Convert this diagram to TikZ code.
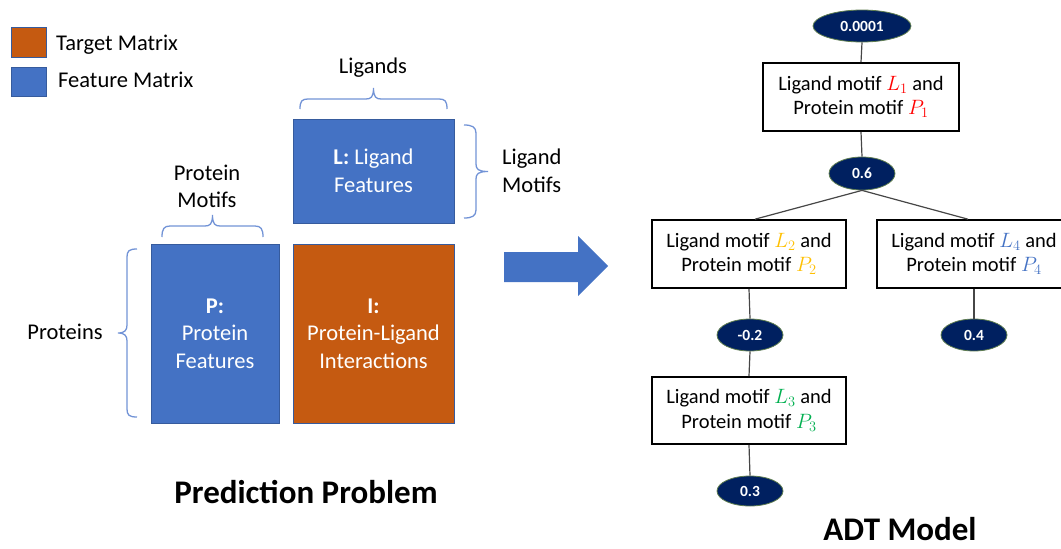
\documentclass[tikz,border=0pt]{standalone}
\usepackage{fontspec}
\setmainfont{Carlito}
\usetikzlibrary{shapes.geometric}
\definecolor{featblue}{HTML}{4472C4}
\definecolor{targorange}{HTML}{C55A11}
\definecolor{bracecol}{RGB}{114,147,214}
\definecolor{navy}{HTML}{002060}
\definecolor{navyedge}{RGB}{95,125,80}
\definecolor{lgold}{HTML}{FFC000}
\definecolor{lgreen}{HTML}{00B050}
\definecolor{lblue}{HTML}{4472C4}
\definecolor{linegray}{RGB}{70,70,70}
\begin{document}
\begin{tikzpicture}[x=1pt,y=-1pt,
  lbl/.style={font=\fontsize{22.5}{27.5}\selectfont, align=center, inner sep=0pt},
  matbox/.style={draw=featblue!80!black, line width=0.6pt, inner sep=0pt, text=white,
     font=\fontsize{22.5}{27.5}\selectfont, align=center},
  brc/.style={draw=bracecol, line width=1.3pt},
  leaf/.style={ellipse, fill=navy, draw=navyedge, line width=0.8pt, text=white,
     font=\fontsize{15.5}{18}\selectfont\bfseries, inner sep=0pt},
  splitbox/.style={draw=black, line width=1.6pt, fill=white, minimum width=194pt,
     minimum height=68pt, align=center, inner sep=0pt, font=\fontsize{20.5}{24.5}\selectfont},
  edge/.style={draw=linegray, line width=1.2pt},
  title/.style={font=\fontsize{33}{38}\selectfont\bfseries, inner sep=0pt}
]
\useasboundingbox (0,0) rectangle (1061,549);

% legend
\node[matbox, fill=targorange, minimum width=35pt, minimum height=30pt] (legT) at (28.5,42) {};
\node[matbox, fill=featblue, minimum width=35pt, minimum height=29pt] (legF) at (28.5,81.5) {};
\node[lbl, anchor=west] (legTt) at (56,45) {Target Matrix};
\node[lbl, anchor=west] (legFt) at (58,80) {Feature Matrix};

% matrices
\node[matbox, fill=featblue, minimum width=161pt, minimum height=104pt] (L) at (373.5,171) {\textbf{L:} Ligand\\Features};
\node[matbox, fill=featblue, minimum width=128pt, minimum height=179pt] (P) at (215,333.5) {\textbf{P:}\\Protein\\Features};
\node[matbox, fill=targorange, minimum width=161pt, minimum height=179pt] (I) at (373.5,333.5) {\textbf{I:}\\Protein-Ligand\\Interactions};

% braces
\draw[brc] (300,109) .. controls (300,101) and (302,99) .. (308,99) -- (366,99)
  .. controls (371,99) and (373.5,97) .. (373.5,88)
  .. controls (373.5,97) and (376,99) .. (381,99) -- (439,99)
  .. controls (445,99) and (447,101) .. (447,109);
\draw[brc] (162,237) .. controls (162,229) and (164,226) .. (170,226) -- (205,226)
  .. controls (210,226) and (212.5,224) .. (212.5,215)
  .. controls (212.5,224) and (215,226) .. (220,226) -- (255,226)
  .. controls (261,226) and (263,229) .. (263,237);
\draw[brc] (464,125) .. controls (472,125) and (476,127) .. (476,133) -- (476,164)
  .. controls (476,169) and (478,171.5) .. (488,171.5)
  .. controls (478,171.5) and (476,174) .. (476,179) -- (476,210)
  .. controls (476,216) and (472,218) .. (464,218);
\draw[brc] (137,249) .. controls (129,249) and (127,251) .. (127,257) -- (127,325)
  .. controls (127,330) and (125,333) .. (118,333)
  .. controls (125,333) and (127,336) .. (127,341) -- (127,409)
  .. controls (127,415) and (129,417) .. (137,417);

% labels
\node[lbl] (ligands) at (373,68) {Ligands};
\node[lbl, align=left, anchor=west] (ligmot) at (502,171) {Ligand\\Motifs};
\node[lbl] (protmot) at (207,186.5) {Protein\\Motifs};
\node[lbl] (proteins) at (65,332) {Proteins};
\node[title] (pp) at (306,492) {Prediction Problem};

% big arrow
\fill[featblue] (504,252) -- (578,252) -- (578,236) -- (608,266) -- (578,296) -- (578,282) -- (504,282) -- cycle;

% ADT tree
\node[leaf, minimum width=98pt, minimum height=32pt] (e0) at (862,26) {0.0001};
\node[splitbox, minimum width=196pt] (b1) at (861,97) {Ligand motif $\color{red}L_1$ and\\Protein motif $\color{red}P_1$};
\node[leaf, minimum width=66pt, minimum height=33pt] (e1) at (862,173.5) {0.6};
\node[splitbox] (b2) at (749,254) {Ligand motif $\color{lgold}L_2$ and\\Protein motif $\color{lgold}P_2$};
\node[splitbox] (b4) at (974,254) {Ligand motif $\color{lblue}L_4$ and\\Protein motif $\color{lblue}P_4$};
\node[leaf, minimum width=66pt, minimum height=32pt] (e2) at (750,335) {-0.2};
\node[leaf, minimum width=66pt, minimum height=32pt] (e4) at (974,335) {0.4};
\node[splitbox, minimum height=67pt] (b3) at (749,410.5) {Ligand motif $\color{lgreen}L_3$ and\\Protein motif $\color{lgreen}P_3$};
\node[leaf, minimum width=66pt, minimum height=30pt] (e3) at (750,491) {0.3};
\node[title] (adt) at (900,529) {ADT Model};

\draw[edge] (e0.south) -- (b1.north);
\draw[edge] (b1.south) -- (e1.north);
\draw[edge] (e1.south) -- ([xshift=6pt]b2.north);
\draw[edge] (e1.south) -- ([xshift=-6pt]b4.north);
\draw[edge] (b2.south) -- (e2.north);
\draw[edge] (e2.south) -- (b3.north);
\draw[edge] (b3.south) -- (e3.north);
\draw[edge] (b4.south) -- (e4.north);
\end{tikzpicture}
\end{document}
